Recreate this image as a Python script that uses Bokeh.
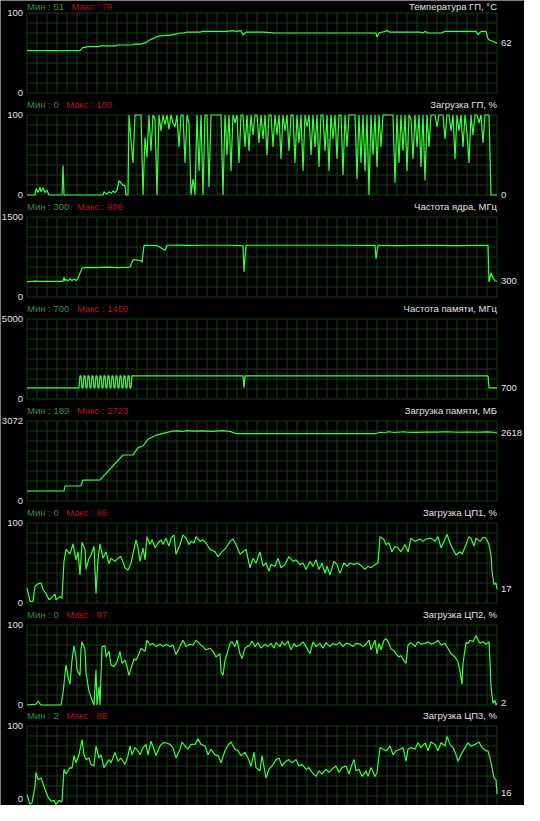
from bokeh.plotting import figure
from bokeh.models import Range1d, ColumnDataSource
from bokeh.core.properties import value
from bokeh.embed import file_html
from bokeh.resources import INLINE

# ---------------- data ----------------
titles = ["Температура ГП, °C", "Загрузка ГП, %", "Частота ядра, МГц", "Частота памяти, МГц",
          "Загрузка памяти, МБ", "Загрузка ЦП1, %", "Загрузка ЦП2, %", "Загрузка ЦП3, %"]
scale_max = [100, 100, 1500, 5000, 3072, 100, 100, 100]
min_vals = [51, 0, 300, 700, 189, 0, 0, 2]
max_vals = [79, 100, 986, 1450, 2723, 86, 87, 88]
current_vals = [62, 0, 300, 700, 2618, 17, 2, 16]

gpu_temp_t = [0, 53, 56, 59, 60, 72, 73, 89, 90, 106, 107, 114, 116, 119, 122, 126, 129, 132, 139, 142,
              146, 150, 153, 157, 160, 173, 176, 190, 200, 205, 210, 214, 216, 219, 236, 248, 349, 350,
              352, 355, 360, 363, 393, 396, 398, 401, 414, 418, 449, 451, 454, 459, 461, 463, 467, 470]
gpu_temp_v = [53, 53, 57, 57, 58, 58, 59, 59, 60, 60, 61, 61, 62, 63, 66, 68, 70, 71, 72, 72,
              73, 74, 75, 75, 76, 76, 77, 77, 77, 78, 77, 78, 72.5, 76, 76, 75, 75, 70,
              75, 76, 78, 76, 76, 75, 77, 75, 75, 77, 77, 73, 77, 77, 68, 66, 64, 62]

gpu_load_idle_t = [0, 8, 9, 11, 13, 14, 16, 18, 20, 22, 35, 36, 37, 76, 77, 78, 80, 82, 84, 86, 88, 90,
                   92, 94, 96, 98, 99, 101]
gpu_load_idle_v = [0, 0, 8, 3, 10, 4, 9, 3, 6, 0, 0, 37, 0, 0, 4, 3, 1, 4, 2, 5, 3, 6,
                   18, 15, 12, 12, 0, 0]
# busy part, one reading every 2 time units from t = 102
gpu_load_busy_v = [100, 68, 40, 100, 100, 100, 100, 0, 72, 47, 100, 55, 100, 95, 0, 100, 80, 100, 88, 100,
                   82, 100, 90, 85, 100, 60, 100, 100, 40, 100, 90, 0, 20, 0, 100, 30, 100, 0, 100, 100,
                   10, 100, 100, 100, 100, 100, 100, 0, 100, 50, 100, 30, 100, 90, 100, 40, 100, 100, 60, 100,
                   55, 100, 75, 100, 100, 65, 100, 70, 100, 50, 100, 100, 60, 100, 75, 100, 45, 100, 80, 100,
                   55, 100, 100, 40, 100, 65, 100, 30, 100, 85, 100, 50, 100, 60, 100, 35, 100, 100, 55, 100,
                   30, 100, 70, 100, 45, 100, 100, 25, 100, 60, 100, 100, 100, 100, 20, 100, 40, 100, 30, 100,
                   0, 100, 50, 100, 35, 100, 60, 100, 100, 100, 100, 100, 100, 15, 100, 40, 100, 55, 100, 30,
                   100, 95, 45, 100, 60, 100, 35, 100, 18, 100, 60, 100, 100, 100, 85, 100, 100, 100, 70, 100,
                   100, 80, 100, 45, 100, 80, 100, 60, 100, 78, 40, 100, 75, 100, 100, 90, 100, 65, 100, 100,
                   100, 0, 0, 0, 0]

core_clock_t = [0, 7, 8, 9, 36, 37, 38, 39, 41, 43, 45, 47, 49, 51, 55, 60, 70, 80, 90, 100, 103, 106,
                110, 114, 115, 117, 118, 130, 138, 140, 150, 160, 180, 200, 216, 217, 219, 300, 348, 349,
                351, 370, 400, 410, 430, 461, 462, 464, 466, 468, 470]
core_clock_v = [290, 292, 305, 292, 292, 370, 300, 330, 300, 345, 305, 340, 310, 350, 540, 555, 550, 560,
                550, 555, 560, 700, 690, 680, 650, 960, 970, 965, 875, 970, 972, 968, 970, 970, 965, 475,
                970, 970, 968, 720, 970, 965, 970, 968, 962, 970, 280, 450, 360, 300, 300]

mem_clock_t = [0, 52] + list(range(53, 106)) + [106, 216, 217, 218, 461, 462, 470]
mem_clock_v = ([700, 700] +
               [1450, 1450, 700, 700, 1450, 1450, 700, 700, 1450, 1450, 700, 700,
                1450, 1450, 700, 700, 1450, 1450, 700, 700, 1450, 1450, 700, 700,
                1450, 1450, 700, 700, 1450, 1450, 700, 700, 1450, 1450, 700, 700,
                1450, 1450, 700, 700, 1450, 1450, 700, 700, 1450, 1450, 700, 700,
                1450, 1450, 700, 700, 1450] +
               [1450, 1450, 700, 1450, 1450, 700, 700])

mem_used_t = [0, 37, 38, 54, 56, 73, 96, 106, 111, 116, 121, 129, 139, 145, 150, 155, 160, 165, 175, 185,
              195, 200, 203, 209, 349, 353, 357, 362, 367, 377, 380, 390, 400, 410, 420, 430, 440, 450,
              460, 466, 470]
mem_used_v = [384, 384, 576, 576, 800, 810, 1766, 1766, 2048, 2112, 2368, 2522, 2624, 2680, 2690, 2670,
              2700, 2680, 2690, 2675, 2700, 2680, 2675, 2590, 2590, 2640, 2620, 2660, 2630, 2660, 2640,
              2635, 2650, 2645, 2660, 2640, 2650, 2640, 2655, 2640, 2618]

cpu1_t = [0, 3, 6, 8, 11, 14, 16, 19, 22, 24, 28, 29, 33, 35, 37, 39, 43, 46, 49, 51, 53, 55, 58, 59, 62,
          64, 67, 69, 71, 73, 76, 79, 82, 84, 88, 91, 94, 98, 101, 104, 109, 111, 113, 116, 118, 120, 123,
          125, 128, 131, 134, 136, 139, 142, 144, 147, 149, 153, 156, 159, 162, 164, 167, 169, 173, 176,
          179, 183, 188, 191, 195, 199, 203, 206, 209, 213, 216, 219, 223, 226, 229, 233, 236, 239, 242,
          244, 248, 251, 254, 258, 262, 266, 269, 273, 276, 279, 283, 286, 289, 292, 295, 298, 300, 303,
          307, 310, 313, 317, 320, 323, 327, 330, 333, 338, 341, 344, 348, 351, 353, 357, 359, 362, 365,
          368, 371, 374, 378, 381, 384, 388, 393, 396, 399, 404, 408, 411, 414, 417, 420, 423, 426, 429,
          433, 435, 439, 442, 444, 447, 449, 453, 456, 459, 462, 464, 465, 467, 469, 470]
cpu1_v = [19, 2, 2, 21, 24, 25, 17, 12, 4, 6, 11, 4, 8, 6, 52, 67, 61, 74, 54, 64, 35, 76, 67, 42, 56,
          60, 71, 12, 54, 74, 56, 64, 49, 56, 52, 56, 58, 44, 41, 50, 79, 69, 52, 69, 54, 83, 73,
          79, 69, 75, 79, 73, 81, 71, 81, 85, 61, 73, 85, 81, 73, 77, 75, 83, 77, 79,
          75, 67, 64, 58, 64, 69, 77, 80, 73, 61, 64, 67, 44, 56, 50, 64, 46, 50, 40,
          48, 46, 56, 44, 48, 58, 52, 54, 48, 50, 42, 52, 46, 54, 42, 50, 37, 46, 35,
          52, 48, 37, 50, 46, 50, 48, 50, 48, 42, 46, 44, 48, 50, 83, 79, 73, 75, 64,
          71, 69, 64, 73, 64, 81, 77, 80, 77, 80, 81, 77, 83, 69, 77, 86, 75, 67, 60,
          64, 61, 73, 83, 81, 71, 81, 77, 82, 81, 73, 60, 40, 23, 25, 17]

cpu2_t = [0, 9, 11, 14, 34, 36, 39, 41, 43, 45, 47, 49, 50, 53, 54, 55, 58, 59, 62, 64, 67, 69, 70, 72,
          73, 75, 78, 79, 82, 84, 87, 90, 93, 95, 98, 100, 102, 104, 107, 109, 112, 114, 118, 120, 123,
          126, 129, 133, 136, 139, 143, 146, 149, 153, 156, 159, 163, 166, 169, 173, 176, 179, 183, 186,
          189, 193, 194, 196, 198, 200, 203, 205, 208, 210, 213, 215, 218, 220, 223, 225, 228, 231, 234,
          238, 241, 244, 247, 249, 253, 255, 258, 261, 264, 267, 269, 273, 276, 279, 283, 286, 289, 293,
          296, 299, 303, 306, 309, 313, 316, 319, 323, 326, 329, 333, 336, 339, 342, 344, 348, 350, 352,
          354, 357, 359, 362, 364, 367, 369, 372, 374, 376, 379, 381, 384, 388, 391, 394, 398, 401, 404,
          408, 411, 414, 418, 421, 424, 428, 431, 433, 435, 436, 439, 441, 443, 446, 449, 451, 453, 456,
          459, 462, 463, 464, 466, 468, 469, 470]
cpu2_v = [0, 1, 5, 0, 0, 15, 50, 35, 26, 56, 74, 60, 44, 37, 70, 79, 69, 40, 17, 10, 0, 44, 0, 23,
          0, 73, 74, 60, 67, 50, 48, 54, 67, 52, 56, 48, 37, 46, 58, 56, 64, 71, 67, 81, 75,
          77, 73, 76, 73, 76, 73, 75, 63, 73, 81, 73, 76, 75, 81, 76, 73, 69, 71, 67,
          60, 64, 42, 37, 56, 64, 77, 79, 73, 81, 64, 58, 71, 73, 75, 80, 73, 78, 71,
          76, 73, 77, 71, 78, 73, 79, 75, 80, 69, 77, 73, 75, 79, 73, 64, 79, 73, 77,
          71, 78, 73, 77, 75, 78, 73, 77, 76, 73, 77, 76, 73, 76, 81, 69, 81, 64, 77,
          69, 81, 83, 77, 70, 68, 64, 60, 62, 57, 52, 75, 78, 73, 79, 76, 77, 79,
          76, 78, 81, 75, 77, 71, 64, 60, 54, 42, 26, 52, 78, 77, 81, 79, 87, 81, 77,
          79, 76, 79, 52, 23, 2, 6, 0, 2]

cpu3_t = [0, 3, 5, 8, 9, 11, 14, 18, 21, 24, 27, 29, 32, 35, 37, 39, 43, 45, 47, 49, 52, 55, 57, 59, 62,
          64, 67, 69, 72, 74, 77, 79, 82, 84, 88, 91, 94, 98, 101, 103, 105, 108, 111, 113, 116, 119, 121,
          124, 127, 129, 133, 136, 139, 143, 146, 149, 153, 155, 158, 161, 164, 168, 171, 174, 178, 181,
          184, 188, 191, 194, 198, 201, 204, 208, 211, 214, 218, 221, 224, 227, 229, 233, 235, 239, 242,
          245, 249, 252, 255, 259, 262, 265, 269, 272, 275, 279, 282, 285, 289, 292, 295, 299, 302, 305,
          309, 312, 315, 319, 322, 325, 327, 329, 332, 335, 339, 341, 344, 348, 350, 353, 356, 359, 363,
          366, 369, 373, 376, 379, 381, 384, 388, 391, 394, 398, 401, 404, 408, 411, 414, 418, 420, 423,
          426, 429, 431, 434, 438, 441, 444, 448, 452, 455, 459, 461, 463, 465, 467, 469, 470]
cpu3_v = [14, 2, 4, 25, 42, 33, 35, 21, 11, 6, 7, 2, 7, 5, 46, 40, 48, 47, 63, 54, 64, 83, 64, 58, 60,
          52, 50, 75, 60, 64, 48, 52, 58, 54, 67, 56, 60, 52, 63, 75, 64, 73, 69, 64, 73, 77, 64,
          81, 71, 63, 75, 79, 79, 77, 73, 60, 71, 80, 75, 71, 77, 77, 84, 77, 75, 64,
          71, 64, 63, 54, 69, 76, 80, 71, 69, 63, 67, 60, 50, 67, 48, 44, 63, 35, 46,
          50, 58, 60, 50, 56, 58, 54, 58, 50, 52, 46, 48, 42, 37, 44, 40, 46, 42, 46,
          50, 42, 48, 50, 40, 52, 58, 44, 46, 37, 44, 37, 48, 37, 42, 73, 71, 69, 75,
          64, 69, 71, 73, 56, 71, 73, 71, 79, 73, 79, 69, 80, 77, 69, 79, 75, 87, 77,
          73, 64, 56, 64, 73, 79, 75, 77, 80, 73, 69, 69, 60, 48, 35, 33, 15]

gpu_load_t = gpu_load_idle_t + list(range(102, 102 + 2 * len(gpu_load_busy_v), 2))
gpu_load_v = gpu_load_idle_v + gpu_load_busy_v

series_t = [gpu_temp_t, gpu_load_t, core_clock_t, mem_clock_t, mem_used_t, cpu1_t, cpu2_t, cpu3_t]
series_v = [gpu_temp_v, gpu_load_v, core_clock_v, mem_clock_v, mem_used_v, cpu1_v, cpu2_v, cpu3_v]

# ---------------- style / layout ----------------
FONT = value("Liberation Sans")
FS = value("9.5px")
GRID = "#143c14"
LINE = "#3cff3c"
TXT = "#e2e2e2"
MINC = "#3f8f3f"
MAXC = "#b31717"
W, H = 524, 805
LEFT = 26                                       # px from canvas left to the time origin
T_END = 470                                     # time span of each strip
STRIP_H = 80                                    # strip height, px
STRIP_TOPS = [12, 114, 216, 318, 420, 522, 624, 725]   # strip tops, px from canvas top

# half-pixel shift so that 1px grid lines fall on pixel centres
p = figure(width=W, height=H, x_range=Range1d(-LEFT - 0.5, W - LEFT - 0.5), y_range=Range1d(0, H),
           toolbar_location=None, output_backend="svg",
           x_axis_location=None, y_axis_location=None,
           min_border_left=0, min_border_right=0, min_border_top=0, min_border_bottom=0,
           background_fill_color="black", border_fill_color="black", outline_line_color=None)
p.grid.visible = False

grid_x = list(range(0, T_END + 1, 10))

for i in range(8):
    ymax = scale_max[i]
    k = ymax / STRIP_H                          # value units per pixel
    bottom_px = H - STRIP_TOPS[i] - STRIP_H - 0.5
    name = f"s{i}"
    start = -bottom_px * k
    p.extra_y_ranges[name] = Range1d(start, start + H * k)

    # grid
    grid_y = [ymax * j / 8 for j in range(9)]
    p.segment(x0=grid_x, y0=[0] * len(grid_x), x1=grid_x, y1=[ymax] * len(grid_x),
              y_range_name=name, line_color=GRID, line_width=1)
    p.segment(x0=[0] * 9, y0=grid_y, x1=[T_END] * 9, y1=grid_y,
              y_range_name=name, line_color=GRID, line_width=1)

    # data
    src = ColumnDataSource(dict(t=series_t[i], v=series_v[i]))
    p.line("t", "v", source=src, y_range_name=name, line_color=LINE, line_width=1.2)

    # scale labels (the last strip is cut by the window edge: keep its "0" fully inside)
    last = i == 7
    p.text(x=[0], y=[ymax], text=[str(ymax)], x_offset=-4, y_range_name=name,
           text_align="right", text_baseline="middle", text_color=TXT,
           text_font=FONT, text_font_size=FS)
    p.text(x=[0], y=[7.5 * k if last else 0], text=["0"], x_offset=-4, y_range_name=name,
           text_align="right", text_baseline="middle", text_color=TXT,
           text_font=FONT, text_font_size=FS)
    # current value
    p.text(x=[T_END], y=[current_vals[i]], text=[str(current_vals[i])], x_offset=4,
           y_range_name=name, text_align="left", text_baseline="middle", text_color=TXT,
           text_font=FONT, text_font_size=FS)
    # header line (above the strip)
    gap = 7 if i == 0 else 11
    hy = ymax + gap * k
    mn = str(min_vals[i])
    p.text(x=[0], y=[hy], text=["Мин : " + mn], y_range_name=name,
           text_align="left", text_baseline="middle", text_color=MINC,
           text_font=FONT, text_font_size=FS)
    p.text(x=[0], y=[hy], text=["Макс : " + str(max_vals[i])], x_offset=34 + 5.3 * len(mn),
           y_range_name=name, text_align="left", text_baseline="middle", text_color=MAXC,
           text_font=FONT, text_font_size=FS)
    p.text(x=[T_END], y=[hy], text=[titles[i]], y_range_name=name,
           text_align="right", text_baseline="middle", text_color=TXT,
           text_font=FONT, text_font_size=FS)

open("out.html", "w").write(file_html(p, INLINE))
